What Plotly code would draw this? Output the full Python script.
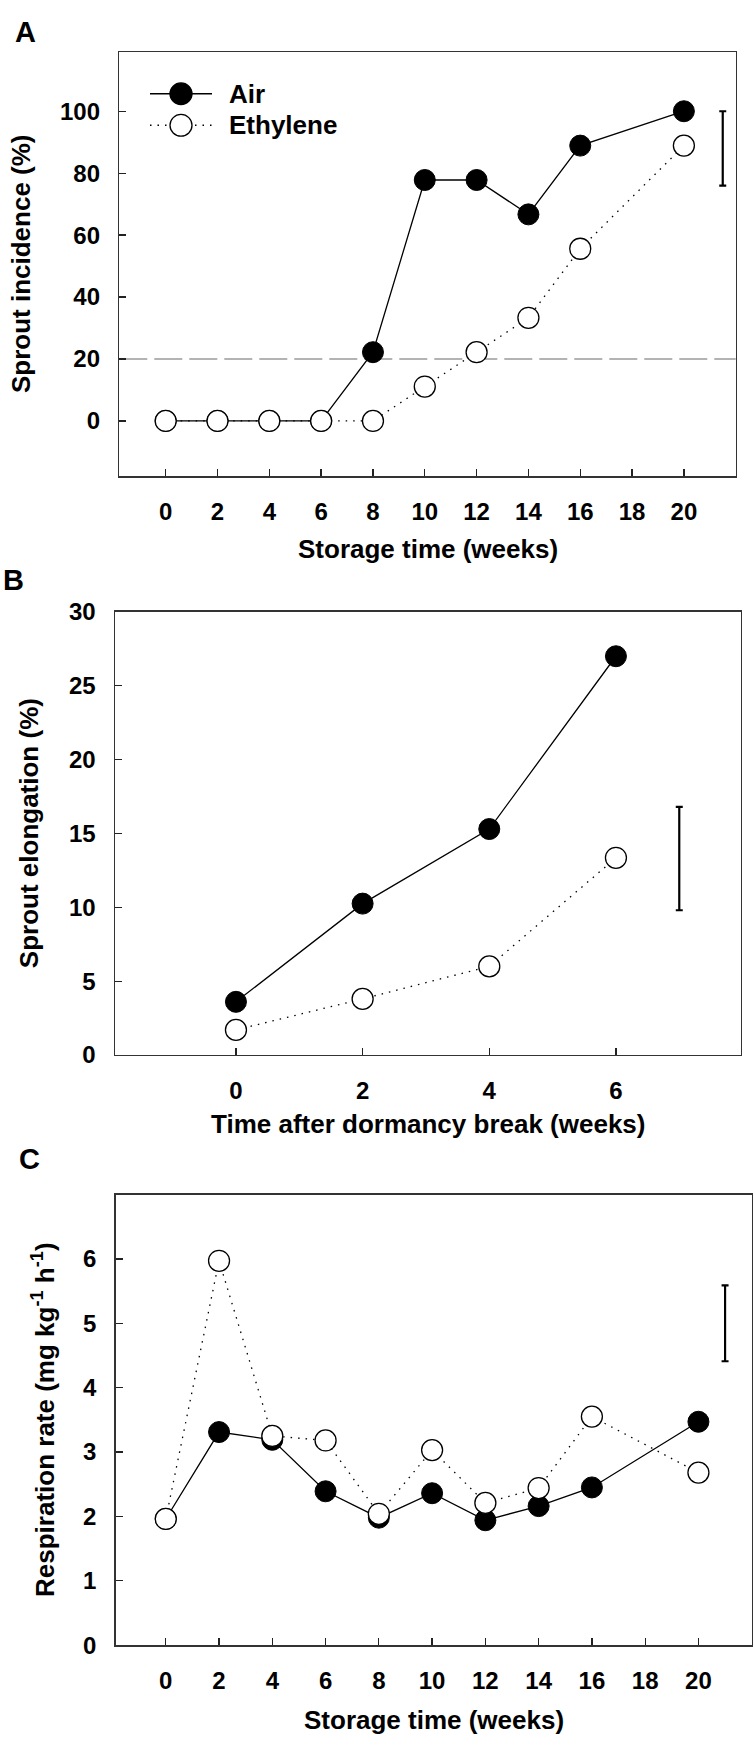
import plotly.graph_objects as go

# ---------------- data ----------------
# Panel A: sprout incidence (%)
weeks_A = [0, 2, 4, 6, 8, 10, 12, 14, 16, 20]
air_A = [0, 0, 0, 0, 22.2, 77.8, 77.8, 66.7, 88.9, 100]
eth_A = [0, 0, 0, 0, 0, 11.1, 22.2, 33.3, 55.6, 88.9]
threshold_A = 20
lsd_x_A, lsd_lo_A, lsd_hi_A = 21.5, 76.0, 100.0

# Panel B: sprout elongation (%)
weeks_B = [0, 2, 4, 6]
air_B = [3.6, 10.25, 15.3, 27.0]
eth_B = [1.7, 3.8, 6.0, 13.35]
lsd_x_B, lsd_lo_B, lsd_hi_B = 7.0, 9.8, 16.8

# Panel C: respiration rate
weeks_C = [0, 2, 4, 6, 8, 10, 12, 14, 16, 20]
air_C = [1.96, 3.31, 3.19, 2.39, 1.98, 2.36, 1.94, 2.16, 2.45, 3.47]
eth_C = [1.96, 5.97, 3.25, 3.18, 2.04, 3.03, 2.21, 2.44, 3.55, 2.68]
lsd_x_C, lsd_lo_C, lsd_hi_C = 21.0, 4.41, 5.59

ticks_storage = list(range(0, 21, 2))
ticks_B_x = [0, 2, 4, 6]
ticks_A_y = [0, 20, 40, 60, 80, 100]
ticks_B_y = [0, 5, 10, 15, 20, 25, 30]
ticks_C_y = [0, 1, 2, 3, 4, 5, 6]

series_names = ["Air", "Ethylene"]

# ---------------- style ----------------
W, H = 755, 1751
FONT = "Liberation Sans, Arial, Helvetica, sans-serif"
MS = 21
DOT = "1.5px,6px"

def px_x(p):
    return p / W

def px_y(p):
    return 1 - p / H

fig = go.Figure()

def add_panel(xs, air, eth, xa, ya):
    fig.add_trace(go.Scatter(
        x=xs, y=air, name=series_names[0], mode="lines+markers",
        line=dict(color="black", width=1.3),
        marker=dict(symbol="circle", size=MS, color="black", line=dict(color="black", width=1)),
        xaxis=xa, yaxis=ya, showlegend=False))
    fig.add_trace(go.Scatter(
        x=xs, y=eth, name=series_names[1], mode="lines+markers",
        line=dict(color="black", width=1.3, dash=DOT),
        marker=dict(symbol="circle", size=MS, color="white", line=dict(color="black", width=1.3)),
        xaxis=xa, yaxis=ya, showlegend=False))

def add_lsd(x, lo, hi, xa, ya):
    fig.add_trace(go.Scatter(
        x=[x], y=[(lo + hi) / 2], mode="markers",
        marker=dict(size=0.1, color="rgba(0,0,0,0)"),
        error_y=dict(type="data", symmetric=True, array=[(hi - lo) / 2],
                     color="black", thickness=2.2, width=3.5),
        xaxis=xa, yaxis=ya, showlegend=False, hoverinfo="skip"))

add_panel(weeks_A, air_A, eth_A, "x", "y")
add_lsd(lsd_x_A, lsd_lo_A, lsd_hi_A, "x", "y")
add_panel(weeks_B, air_B, eth_B, "x2", "y2")
add_lsd(lsd_x_B, lsd_lo_B, lsd_hi_B, "x2", "y2")
add_panel(weeks_C, air_C, eth_C, "x3", "y3")
add_lsd(lsd_x_C, lsd_lo_C, lsd_hi_C, "x3", "y3")

axis_common = dict(
    showline=True, mirror=True, linecolor="#333333", linewidth=1.5,
    ticks="inside", ticklen=7, tickwidth=1.3, tickcolor="#222222",
    showgrid=False, zeroline=False,
    tickfont=dict(family=FONT, size=24, color="black", weight="bold"),
)

fig.update_layout(
    width=W, height=H,
    margin=dict(l=0, r=0, t=0, b=0),
    paper_bgcolor="white", plot_bgcolor="white",
    font=dict(family=FONT, color="black"),
    showlegend=False,
    xaxis=dict(axis_common, domain=[px_x(119.3), px_x(735.7)], range=[-1.79, 22.0],
               tickvals=ticks_storage, anchor="y", ticklabelstandoff=14),
    yaxis=dict(axis_common, domain=[px_y(469.3), px_y(39)], range=[-17.8, 119.0],
               tickvals=ticks_A_y, anchor="x", ticklabelstandoff=13),
    xaxis2=dict(axis_common, domain=[px_x(115), px_x(740.7)], range=[-1.91, 7.97],
                tickvals=ticks_B_x, anchor="y2", ticklabelstandoff=14),
    yaxis2=dict(axis_common, domain=[px_y(1057.3), px_y(607.3)], range=[0, 30],
                tickvals=ticks_B_y, anchor="x2", ticklabelstandoff=13),
    xaxis3=dict(axis_common, domain=[px_x(115.7), px_x(751.7)], range=[-1.88, 22.0],
                tickvals=ticks_storage, anchor="y3", ticklabelstandoff=14),
    yaxis3=dict(axis_common, domain=[px_y(1656.7), px_y(1199)], range=[0, 7.0],
                tickvals=ticks_C_y, anchor="x3", ticklabelstandoff=13),
)

# threshold dashed line in panel A
fig.add_shape(type="line", xref="x domain", x0=0, x1=1, yref="y",
              y0=threshold_A, y1=threshold_A,
              line=dict(color="#9a9a9a", width=1.3, dash="28px,7px"), layer="below")

# legend key (drawn in panel A's top-left corner)
for i, (name, fill, dash) in enumerate([(series_names[0], "black", "solid"),
                                         (series_names[1], "white", DOT)]):
    yc = 81 + 32 * i
    fig.add_shape(type="line", xref="paper", yref="paper",
                  x0=px_x(150), x1=px_x(212), y0=px_y(yc), y1=px_y(yc),
                  line=dict(color="black", width=1.3, dash=dash))
    fig.add_shape(type="circle", xref="paper", yref="paper",
                  x0=px_x(181 - 11), x1=px_x(181 + 11), y0=px_y(yc + 11), y1=px_y(yc - 11),
                  fillcolor=fill, line=dict(color="black", width=1.3))
    fig.add_annotation(text=name, x=px_x(227), y=px_y(yc), xref="paper", yref="paper",
                       showarrow=False, xanchor="left", yanchor="middle",
                       font=dict(family=FONT, size=26, color="black", weight="bold"))

def ann(text, x, y, size, angle=0):
    fig.add_annotation(text=text, x=px_x(x), y=px_y(y), xref="paper", yref="paper",
                       showarrow=False, textangle=angle, xanchor="center", yanchor="middle",
                       font=dict(family=FONT, size=size, color="black", weight="bold"))

# panel letters
ann("A", 25, 18, 29)
ann("B", 13, 575, 29)
ann("C", 29, 1163, 29)

# x-axis titles
ann("Storage time (weeks)", 427.5, 543, 26)
ann("Time after dormancy break (weeks)", 428, 1127, 26)
ann("Storage time (weeks)", 433.7, 1733, 26)

# y-axis titles
ann("Sprout incidence (%)", 21, 254, 26, -90)
ann("Sprout elongation (%)", 29, 832, 26, -90)
ann("Respiration rate (mg kg<sup>-1</sup> h<sup>-1</sup>)", 44, 1428, 26, -90)

fig.write_html("out.html",
               config={"displayModeBar": False, "staticPlot": True},
               post_script="document.body.style.margin='0';document.body.style.overflow='hidden';")
